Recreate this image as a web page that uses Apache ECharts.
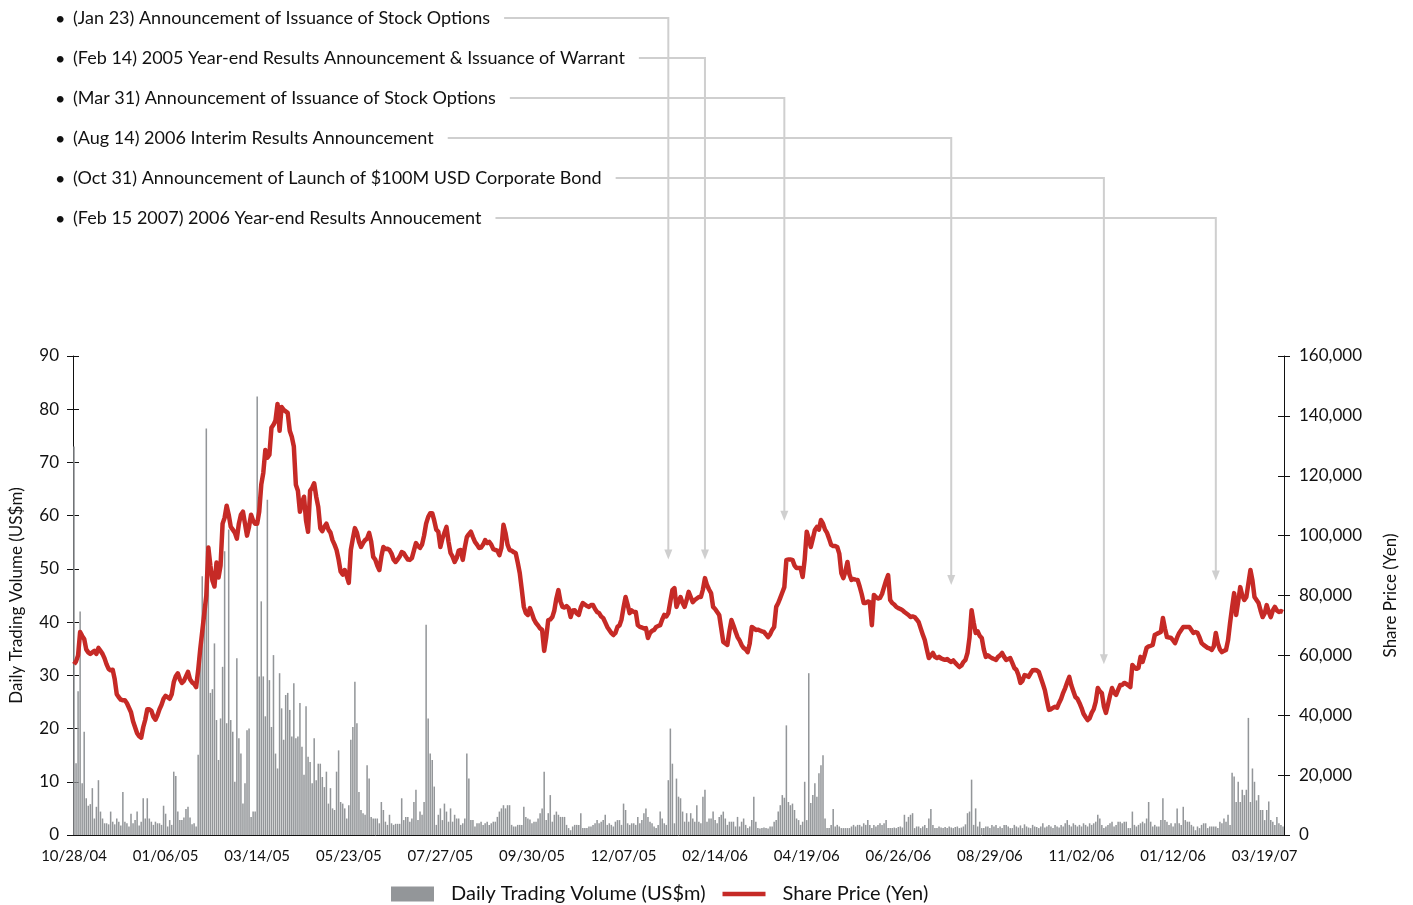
<!DOCTYPE html>
<html>
<head>
<meta charset="utf-8">
<title>Share price and daily trading volume</title>
<script src="https://cdn.jsdelivr.net/npm/echarts@6/dist/echarts.min.js"></script>
<style>
  html, body { margin: 0; padding: 0; background: #fff; }
  #chart { width: 1413px; height: 905px; }
</style>
</head>
<body>
<div id="chart"></div>
<script>
/*
 * Share price (line, right axis) against daily trading volume (bars, left axis),
 * one category per trading day, 10/28/04 -> end of March 2007.
 * The announcement list on top is drawn with graphic elements, anchored on the
 * chart scales once the grid is laid out.
 */

// date labels, one every 45 trading days (the source has "01/12/06" for Jan 2007)
const tickLabels = ['10/28/04', '01/06/05', '03/14/05', '05/23/05', '07/27/05', '09/30/05',
  '12/07/05', '02/14/06', '04/19/06', '06/26/06', '08/29/06', '11/02/06', '01/12/06', '03/19/07'];
const tickStep = 45;

// daily trading volume, US$m
const volume = [
  73, 13.5, 27, 42, 9.7, 19.4, 6.9, 5.5, 5.8, 8.8,
  3.1, 5.3, 10.3, 4.4, 3.1, 2.2, 2.2, 2.0, 4.4, 2.5,
  2.0, 3.1, 2.5, 1.8, 8.1, 2.5, 2.2, 1.6, 4.0, 2.2,
  2.8, 4.4, 1.8, 2.5, 6.9, 3.1, 6.9, 3.1, 2.5, 1.9,
  2.5, 2.2, 2.2, 1.9, 5.5, 4.0, 1.6, 2.8, 1.9, 11.9,
  11.1, 4.4, 2.8, 2.8, 3.3, 4.9, 5.3, 3.3, 2.0, 2.2,
  1.6, 15.1, 34.1, 48.6, 41.1, 76.4, 54.2, 26.7, 27.4, 36.0,
  21.6, 14.1, 21.9, 31.6, 53.3, 21.0, 57.4, 21.6, 19.4, 10.0,
  33.2, 18.2, 15.3, 5.9, 9.7, 19.7, 20.0, 3.4, 4.4, 4.4,
  82.4, 29.8, 43.9, 29.8, 22.3, 63.0, 29.1, 20.3, 33.8, 15.3,
  12.5, 30.4, 23.8, 17.9, 26.3, 26.7, 23.5, 18.5, 28.5, 18.2,
  18.5, 24.8, 16.6, 11.3, 24.2, 14.7, 13.7, 9.7, 18.2, 10.3,
  13.4, 13.4, 10.9, 9.0, 11.9, 5.9, 8.8, 5.0, 4.7, 11.9,
  15.9, 6.2, 5.9, 5.0, 3.1, 5.6, 17.9, 20.3, 28.8, 21.0,
  8.1, 4.7, 4.1, 3.8, 13.1, 10.6, 3.4, 3.1, 3.1, 3.1,
  2.2, 6.2, 4.7, 2.5, 1.9, 3.8, 2.2, 1.9, 2.1, 2.1,
  2.1, 6.9, 2.8, 3.4, 3.4, 2.5, 3.1, 6.2, 8.5, 2.8,
  4.4, 3.8, 6.2, 39.5, 21.9, 15.3, 14.1, 9.1, 1.9, 3.8,
  5.0, 2.8, 5.9, 4.4, 2.5, 5.0, 2.5, 3.8, 3.1, 3.1,
  1.9, 2.2, 3.1, 15.3, 10.6, 2.8, 2.8, 1.6, 2.2, 2.2,
  2.5, 1.9, 2.2, 2.5, 1.9, 2.2, 2.5, 2.5, 3.4, 4.4,
  5.0, 5.6, 5.0, 5.6, 5.6, 1.9, 1.6, 1.6, 1.9, 1.9,
  1.9, 5.3, 3.4, 3.1, 2.9, 2.2, 2.5, 2.5, 3.1, 4.1,
  5.0, 11.9, 2.8, 4.1, 7.5, 2.5, 3.8, 4.4, 3.8, 3.4,
  3.4, 3.4, 1.9, 1.3, 0.9, 1.6, 1.9, 1.9, 1.9, 4.1,
  1.3, 1.3, 1.3, 1.6, 1.6, 1.9, 2.2, 2.8, 2.2, 2.5,
  2.8, 3.8, 1.9, 2.2, 1.9, 1.6, 2.5, 2.8, 2.8, 1.9,
  5.9, 4.7, 2.2, 1.9, 2.2, 2.2, 1.9, 3.4, 2.2, 2.8,
  4.1, 5.0, 3.4, 2.5, 2.2, 1.6, 1.3, 1.9, 4.4, 3.1,
  2.2, 1.9, 10.3, 20.0, 13.4, 2.2, 10.6, 7.2, 6.9, 4.4,
  2.5, 4.1, 2.5, 4.1, 3.1, 2.5, 5.6, 2.5, 2.2, 7.2,
  8.5, 2.5, 3.1, 3.1, 4.4, 2.8, 2.2, 3.4, 3.8, 4.4,
  3.1, 1.9, 2.5, 2.5, 2.5, 1.6, 3.4, 1.6, 2.5, 3.1,
  1.9, 1.3, 1.6, 2.8, 7.2, 2.5, 1.3, 1.2, 1.3, 1.4,
  1.3, 1.2, 1.6, 1.6, 2.5, 2.8, 4.4, 5.6, 7.5, 7.0,
  20.6, 6.2, 5.6, 5.9, 4.7, 3.1, 2.8, 1.9, 2.5, 10.0,
  2.8, 30.4, 6.0, 7.5, 9.7, 7.2, 11.6, 13.1, 15.0, 3.1,
  1.3, 1.3, 1.9, 4.9, 1.6, 1.9, 1.6, 1.3, 1.3, 1.3,
  1.3, 1.3, 1.6, 1.9, 1.6, 1.9, 1.9, 1.6, 2.2, 1.9,
  2.8, 1.9, 1.3, 1.9, 1.6, 1.9, 2.2, 1.9, 2.2, 2.8,
  1.3, 1.3, 1.3, 1.4, 1.3, 1.5, 1.6, 1.4, 3.8, 2.5,
  3.4, 3.8, 4.1, 1.3, 1.6, 1.6, 1.3, 1.6, 1.9, 1.3,
  3.1, 4.9, 1.9, 1.3, 1.3, 1.6, 1.4, 1.3, 1.5, 1.3,
  1.6, 1.4, 1.3, 1.5, 1.6, 1.3, 1.4, 1.6, 2.0, 4.1,
  4.4, 10.4, 1.9, 5.0, 1.6, 2.5, 1.3, 1.3, 1.6, 1.6,
  1.3, 1.9, 1.6, 1.9, 1.3, 1.6, 1.3, 1.9, 1.9, 1.6,
  1.3, 1.3, 1.9, 1.6, 1.4, 1.8, 1.3, 2.0, 1.6, 1.4,
  1.3, 1.9, 1.6, 1.5, 1.3, 1.6, 2.2, 1.4, 1.6, 1.9,
  1.6, 1.3, 1.9, 1.6, 1.4, 1.9, 1.6, 2.2, 2.8, 1.9,
  1.6, 2.2, 1.9, 1.6, 1.9, 1.6, 2.2, 1.9, 1.6, 2.2,
  1.9, 2.2, 2.5, 3.8, 3.1, 1.9, 1.3, 1.6, 1.9, 2.2,
  2.5, 1.6, 1.9, 2.5, 2.5, 2.2, 2.5, 2.5, 1.3, 1.3,
  4.4, 1.9, 1.6, 1.9, 2.2, 2.5, 2.2, 3.1, 6.2, 2.5,
  1.6, 1.9, 1.6, 1.6, 2.8, 6.9, 2.8, 2.5, 1.9, 2.2,
  1.6, 2.2, 5.0, 2.2, 1.9, 5.3, 2.8, 2.5, 2.5, 1.9,
  1.6, 0.9, 1.6, 1.3, 1.9, 2.2, 2.2, 1.3, 1.6, 1.6,
  1.6, 1.6, 1.3, 2.5, 2.2, 3.1, 2.5, 3.8, 1.9, 11.7,
  11.0, 6.2, 10.0, 6.2, 8.5, 7.5, 8.5, 22.0, 6.2, 12.5,
  10.0, 6.5, 7.5, 4.7, 4.7, 2.8, 4.7, 6.3, 2.8, 2.5,
  1.9, 3.4, 2.2, 1.9, 1.6
];

// closing share price, thousand yen
const priceK = [
  57, 58, 60, 67.8, 66.5, 65.5, 62, 61, 60.5, 61,
  61.5, 60.5, 62.5, 61.5, 60.5, 59, 57, 55.5, 55, 55.2,
  52, 47, 46, 45.2, 45, 45, 44, 42.5, 41, 38,
  36, 34, 33, 32.5, 36, 38.5, 42, 42, 41.5, 39.5,
  38.5, 40, 42, 43.5, 45.5, 46.5, 46, 45.5, 47, 51,
  53, 54, 52, 50.8, 51.5, 53, 54.5, 52, 51, 50.5,
  49.4, 55, 62, 68, 74, 80, 96, 90, 85, 83,
  91, 86, 90, 104, 106, 110, 107, 103, 102, 101,
  99, 104, 107, 108, 104, 100, 103, 107, 105, 104,
  104, 108, 117, 121, 128.6, 126, 127, 136, 137, 138.5,
  144, 135, 143, 142, 141.5, 141, 135, 133, 129.8, 117,
  115, 108, 111, 113, 105, 101.3, 115, 116, 117.5, 113,
  109.6, 102.5, 101.5, 103, 104, 102, 101, 98.5, 97, 95.2,
  92, 88, 87, 88.5, 86.5, 84.2, 95.2, 99, 102.5, 101,
  98, 96.2, 97.5, 98.5, 99, 100.9, 98, 92.9, 92, 90,
  88.5, 93, 96.2, 95.5, 95.6, 95.2, 94, 92, 91.2, 92,
  93, 94.5, 94.2, 93, 92, 91.9, 92.5, 95, 97.5, 96.5,
  95.9, 97, 100, 104, 106.2, 107.5, 107.5, 105, 102, 101.3,
  96.2, 99, 101, 102.9, 98, 94.2, 93, 91.2, 92.5, 95,
  95.2, 91.9, 96, 99.5, 100.5, 101.3, 99.5, 97.9, 97, 95.9,
  96, 97, 98.5, 97.5, 97.9, 97, 95.5, 95.2, 95, 93.5,
  96, 103.6, 100.9, 97, 95.2, 95, 94.5, 94.2, 91, 87.5,
  82, 76.2, 74.1, 73.5, 75.8, 74, 72, 70.8, 70, 69,
  68.5, 61.5, 66, 71.8, 72, 72.8, 75, 79, 81.8, 78,
  76.2, 76, 76.5, 75.8, 72.8, 75, 75.1, 74, 73.5, 76,
  77.5, 77, 76.5, 76.2, 76.8, 76.8, 75.5, 74.5, 74.1, 73,
  72.5, 71, 69.5, 68.5, 67.5, 66.8, 67.5, 69.5, 70, 72,
  76, 79.5, 77, 74.1, 75, 74.5, 74.5, 70.1, 69.5, 69.3,
  69, 69.1, 65.8, 67.5, 68.2, 68.5, 69.5, 69.8, 70.1, 72,
  73.5, 73, 74.1, 78, 81.8, 82.5, 76.2, 78, 79.5, 77.5,
  76.2, 78.5, 81.2, 79.5, 77.8, 78.5, 79, 79.5, 79.5, 82,
  85.8, 83.5, 82, 80.8, 76.2, 75.5, 74.5, 73.5, 69, 64.5,
  64, 63.5, 68, 71.8, 70, 68, 66.1, 65, 63.5, 62.5,
  62, 61.1, 64, 69.5, 69, 68.5, 68.6, 68.3, 68, 67.8,
  67, 66.1, 67, 68.5, 69.5, 76.2, 77.5, 79.2, 81, 82.8,
  91.9, 92, 92, 91.9, 90, 89.2, 89.2, 89.2, 86.2, 92,
  101.3, 99, 96.2, 99, 101.9, 102.9, 102, 105.2, 104, 102,
  100.9, 99, 96.9, 96.5, 96.5, 96.2, 94, 87.5, 85.8, 88,
  91.2, 87, 85.2, 85.5, 85.3, 85.2, 83, 80.5, 77.5, 77.5,
  78, 77.8, 70.1, 80.2, 79.5, 79, 79.2, 80.5, 82.8, 85,
  86.8, 78.5, 77.5, 77, 76.2, 75.8, 75.5, 75.1, 74.5, 74,
  73.5, 72.8, 73, 72.8, 72, 71.1, 69, 67, 65.1, 62,
  59.1, 60, 60.8, 59.5, 59.1, 59.5, 59, 58.7, 58.5, 58.8,
  58.2, 57.8, 58.3, 57.5, 56.8, 56.1, 56.6, 57.8, 58.5, 60.8,
  66, 75.1, 71, 67.5, 68, 66.5, 65.8, 62, 59.5, 60,
  59.5, 59.1, 58.8, 58.5, 59.5, 60, 60.8, 59.5, 58.5, 58.8,
  59.1, 57.5, 55.8, 55.2, 53.5, 50.8, 51.5, 53.4, 53.2, 52.8,
  54, 55, 55.1, 55, 54.5, 52.5, 50.5, 48.4, 45, 41.8,
  42, 42.5, 42.8, 42.5, 44.1, 45.5, 47.5, 49.1, 51, 52.8,
  50, 48, 46.1, 45.5, 44.1, 42.5, 40.5, 39.4, 38.4, 39,
  40.8, 42, 44.5, 49.1, 48, 47.4, 43, 40.8, 43.5, 46.5,
  49.1, 47.5, 46.8, 48.5, 50.1, 50.1, 50.8, 50.5, 50, 49.4,
  56.8, 56, 55.5, 55.8, 59.5, 57.8, 60, 62.5, 63, 63.2,
  63.5, 66.8, 67.2, 67.5, 67.8, 72.5, 69, 66.1, 66, 65.8,
  65, 64.1, 66, 67.5, 68.5, 69.5, 69.5, 69.5, 69.5, 68.5,
  67.5, 67.8, 67.5, 66, 64.1, 63.5, 63, 62.5, 62.3, 61.8,
  63, 67.5, 64.1, 62, 61.1, 61.5, 61.8, 65, 70.8, 76,
  80.8, 73.5, 78, 82.8, 80, 78.5, 79.5, 84, 88.5, 85,
  79.5, 78.5, 77.5, 75, 72.8, 74, 76.8, 74.5, 72.8, 75,
  76.2, 75, 74.5, 74.8, 74.5
];

// announcements: text, trading-day index of the arrow, price level (thousand yen) of the arrow tip
const noteTexts = [
  '(Jan 23) Announcement of Issuance of Stock Options',
  '(Feb 14) 2005 Year-end Results Announcement & Issuance of Warrant',
  '(Mar 31) Announcement of Issuance of Stock Options',
  '(Aug 14) 2006 Interim Results Announcement',
  '(Oct 31) Announcement of Launch of $100M USD Corporate Bond',
  '(Feb 15 2007) 2006 Year-end Results Annoucement'
];
const noteIndex = [291.5, 309.5, 348.5, 431, 506, 561];
const noteTipK = [92, 92, 105, 83.5, 57, 85];

const FONT = 'Lato, "Open Sans", sans-serif';
const INK = '#111';
const RED = '#c62a26';
const GREY = '#939699';
const NOTE_GREY = '#cfcfcf';

const days = volume.map((_, i) => String(i));

const chart = echarts.init(document.getElementById('chart'), null, { renderer: 'canvas' });

const axisText = { color: INK, fontFamily: FONT };

chart.setOption({
  animation: false,
  textStyle: { fontFamily: FONT, color: INK },
  grid: { left: 72, right: 129, top: 356, bottom: 70 },
  legend: {
    left: 386, top: 879,
    itemWidth: 43, itemHeight: 15, itemGap: 17,
    textStyle: { fontSize: 20, color: INK, fontFamily: FONT, padding: [0, 0, 0, 12] },
    data: [
      { name: 'Daily Trading Volume (US$m)', icon: 'rect' },
      { name: 'Share Price (Yen)', icon: 'path://M0,0H40V4H0Z' }
    ]
  },
  xAxis: [{
    type: 'category', data: days, position: 'bottom',
    axisLine: { lineStyle: { color: INK, width: 1 } },
    axisTick: { interval: 0, length: 5, lineStyle: { color: '#000' } },
    axisLabel: Object.assign({
      interval: tickStep - 1, fontSize: 15, margin: 14,
      formatter: (v, i) => tickLabels[Math.round(i / tickStep)] || ''
    }, axisText)
  }, {
    // second copy only for the inner half of the crossing ticks
    type: 'category', data: days, position: 'bottom',
    axisLine: { show: false },
    axisTick: { interval: 0, inside: true, length: 5, lineStyle: { color: '#000' } },
    axisLabel: { show: false }
  }],
  yAxis: [{
    type: 'value', position: 'left', min: 0, max: 90, interval: 10,
    name: 'Daily Trading Volume (US$m)', nameLocation: 'middle', nameRotate: 90, nameGap: 48,
    nameTextStyle: { fontSize: 17, color: INK, fontFamily: FONT },
    axisLine: { show: true, lineStyle: { color: INK } },
    axisTick: { show: true, length: 6, lineStyle: { color: INK } },
    axisLabel: Object.assign({ fontSize: 17, margin: 14 }, axisText),
    splitLine: { show: false }
  }, {
    type: 'value', position: 'right', min: 0, max: 160, interval: 20,
    name: 'Share Price (Yen)', nameLocation: 'middle', nameRotate: 90, nameGap: 98,
    nameTextStyle: { fontSize: 17, color: INK, fontFamily: FONT },
    axisLine: { show: true, lineStyle: { color: INK } },
    axisTick: { show: true, length: 6, lineStyle: { color: INK } },
    axisLabel: Object.assign({
      fontSize: 17, margin: 15,
      formatter: v => (v * 1000).toLocaleString('en-US')
    }, axisText),
    splitLine: { show: false }
  }, {
    type: 'value', position: 'left', min: 0, max: 90, interval: 10,
    axisLine: { show: false }, axisLabel: { show: false }, splitLine: { show: false },
    axisTick: { show: true, inside: true, length: 6, lineStyle: { color: INK } }
  }, {
    type: 'value', position: 'right', min: 0, max: 160, interval: 20,
    axisLine: { show: false }, axisLabel: { show: false }, splitLine: { show: false },
    axisTick: { show: true, inside: true, length: 6, lineStyle: { color: INK } }
  }],
  series: [{
    name: 'Daily Trading Volume (US$m)', type: 'bar',
    xAxisIndex: 0, yAxisIndex: 0,
    data: volume, barCategoryGap: '25%',
    itemStyle: { color: GREY }
  }, {
    name: 'Share Price (Yen)', type: 'line',
    xAxisIndex: 0, yAxisIndex: 1,
    data: priceK, showSymbol: false, symbol: 'none',
    lineStyle: { color: RED, width: 4.5, join: 'round' },
    itemStyle: { color: RED }
  }]
});

// announcement list + elbow connectors down to the price line
function drawNotes() {
  const noteFont = '18px ' + FONT;
  const ctx = document.createElement('canvas').getContext('2d');
  ctx.font = noteFont;
  const els = [];
  noteTexts.forEach((txt, i) => {
    const y = 18 + i * 40;
    const ax = chart.convertToPixel({ xAxisIndex: 0 }, noteIndex[i]);
    const tipY = chart.convertToPixel({ yAxisIndex: 1 }, noteTipK[i]);
    const x0 = 73 + ctx.measureText(txt).width + 14;
    els.push({ type: 'text', silent: true,
      style: { x: 55, y: y + 1, text: '•', font: noteFont, fill: INK, verticalAlign: 'middle' } });
    els.push({ type: 'text', silent: true,
      style: { x: 73, y: y, text: txt, font: noteFont, fill: INK, verticalAlign: 'middle' } });
    els.push({ type: 'polyline', silent: true,
      shape: { points: [[x0, y], [ax, y], [ax, tipY - 9]] },
      style: { stroke: NOTE_GREY, lineWidth: 2, fill: null } });
    els.push({ type: 'polygon', silent: true,
      shape: { points: [[ax - 4, tipY - 10], [ax + 4, tipY - 10], [ax, tipY]] },
      style: { fill: NOTE_GREY } });
  });
  chart.setOption({ graphic: els });
}
drawNotes();
</script>
</body>
</html>
